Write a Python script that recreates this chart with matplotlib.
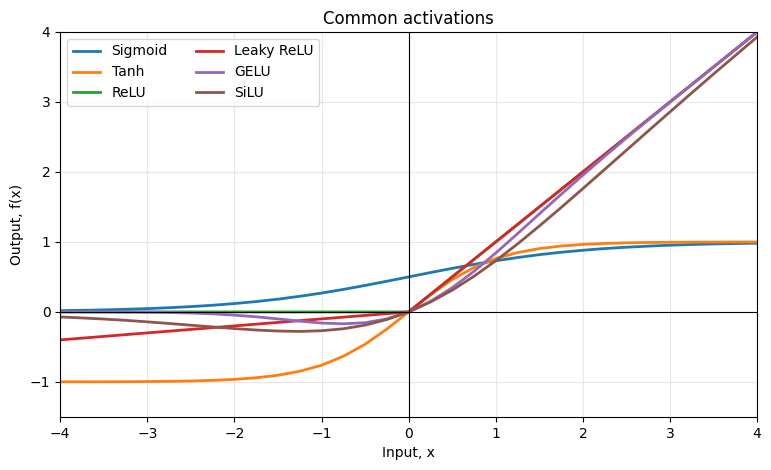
import matplotlib
matplotlib.use("Agg")
import matplotlib.pyplot as plt

xs = [-4.0, -3.75, -3.5, -3.25, -3.0, -2.75, -2.5, -2.25, -2.0, -1.75, -1.5, -1.25,
      -1.0, -0.75, -0.5, -0.25, 0.0, 0.25, 0.5, 0.75, 1.0, 1.25, 1.5, 1.75,
      2.0, 2.25, 2.5, 2.75, 3.0, 3.25, 3.5, 3.75, 4.0]

sigmoid = [0.018, 0.023, 0.029, 0.037, 0.047, 0.060, 0.076, 0.095, 0.119, 0.148, 0.182, 0.223,
           0.269, 0.321, 0.378, 0.438, 0.500, 0.562, 0.622, 0.679, 0.731, 0.777, 0.818, 0.852,
           0.881, 0.905, 0.924, 0.940, 0.953, 0.963, 0.971, 0.977, 0.982]
tanh = [-0.999, -0.999, -0.998, -0.997, -0.995, -0.992, -0.987, -0.978, -0.964, -0.941, -0.905, -0.848,
        -0.762, -0.635, -0.462, -0.245, 0.0, 0.245, 0.462, 0.635, 0.762, 0.848, 0.905, 0.941,
        0.964, 0.978, 0.987, 0.992, 0.995, 0.997, 0.998, 0.999, 0.999]
relu = [0, 0, 0, 0, 0, 0, 0, 0, 0, 0, 0, 0,
        0, 0, 0, 0, 0, 0.25, 0.5, 0.75, 1.0, 1.25, 1.5, 1.75,
        2.0, 2.25, 2.5, 2.75, 3.0, 3.25, 3.5, 3.75, 4.0]
leaky = [-0.4, -0.375, -0.35, -0.325, -0.3, -0.275, -0.25, -0.225, -0.2, -0.175, -0.15, -0.125,
         -0.1, -0.075, -0.05, -0.025, 0.0, 0.25, 0.5, 0.75, 1.0, 1.25, 1.5, 1.75,
         2.0, 2.25, 2.5, 2.75, 3.0, 3.25, 3.5, 3.75, 4.0]
gelu = [0.0, 0.0, -0.001, -0.002, -0.004, -0.008, -0.016, -0.027, -0.046, -0.070, -0.100, -0.132,
        -0.159, -0.170, -0.154, -0.100, 0.0, 0.150, 0.346, 0.580, 0.841, 1.118, 1.400, 1.680,
        1.954, 2.223, 2.485, 2.742, 2.996, 3.248, 3.499, 3.750, 4.0]
silu = [-0.072, -0.086, -0.102, -0.120, -0.142, -0.165, -0.190, -0.214, -0.238, -0.259, -0.273, -0.279,
        -0.269, -0.241, -0.189, -0.109, 0.0, 0.141, 0.311, 0.509, 0.731, 0.971, 1.227, 1.491,
        1.762, 2.036, 2.310, 2.585, 2.858, 3.130, 3.399, 3.664, 3.928]

series = [("Sigmoid", sigmoid), ("Tanh", tanh), ("ReLU", relu),
          ("Leaky ReLU", leaky), ("GELU", gelu), ("SiLU", silu)]

fig, ax = plt.subplots(figsize=(7.71, 4.70), dpi=100)
fig.subplots_adjust(left=0.078, right=0.982, top=0.932, bottom=0.113)

for name, ys in series:
    ax.plot(xs, ys, lw=2, label=name)

ax.axhline(0, color="black", lw=0.8)
ax.axvline(0, color="black", lw=0.8)
ax.set_xlim(-4, 4)
ax.set_ylim(-1.5, 4)
ax.grid(True, alpha=0.3)
ax.set_title("Common activations")
ax.set_xlabel("Input, x")
ax.set_ylabel("Output, f(x)")
ax.legend(loc="upper left", ncol=2)

fig.savefig("out.png")
